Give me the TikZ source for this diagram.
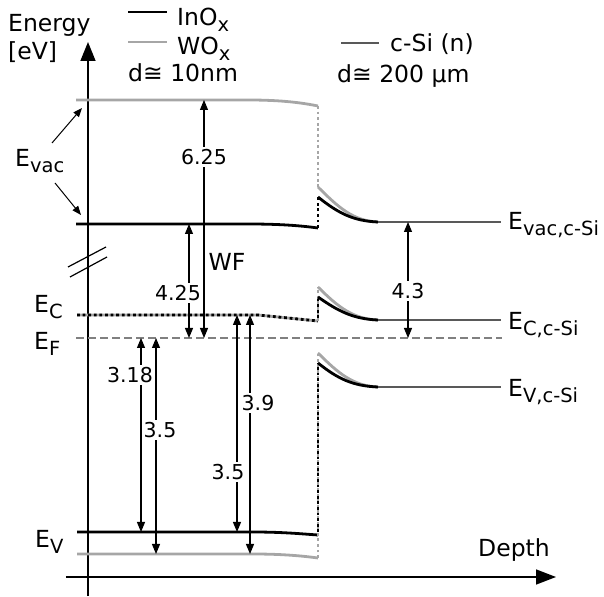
\documentclass[tikz,border=0pt]{standalone}
\usepackage{fontspec}
\setmainfont{DejaVu Sans}
\usepackage{tikz}
\usetikzlibrary{arrows.meta, positioning, calc}
\newcommand{\lowidx}[1]{\raisebox{-6pt}{\fontsize{19.5}{19.5}\selectfont #1}}

\begin{document}
\begin{tikzpicture}[x=1pt, y=1pt,
  lbl/.style={font=\fontsize{23.5}{24}\selectfont, inner sep=0pt},
  num/.style={font=\fontsize{20.5}{21}\selectfont, fill=white, inner sep=2pt},
  dim/.style={{Triangle[length=10pt,width=8pt]}-{Triangle[length=10pt,width=8pt]}, line width=1.1pt},
  pointer/.style={-{Triangle[length=9pt,width=7pt]}, line width=1pt},
  level/.style={line width=2.8pt},
  dots/.style={line width=2.8pt, dash pattern=on 2.8pt off 2.8pt}]
% --- CORES DOS MATERIAIS ---
\definecolor{wogray}{HTML}{A6A6A6}
\definecolor{sigray}{HTML}{595959}
\definecolor{fermigray}{HTML}{808080}
\useasboundingbox (-88,-19) rectangle (516,577);

% LAYER 1: Eixos
\draw[line width=1.5pt, -{Triangle[length=19pt,width=15pt]}] (0,-19) -- (0,535);
\draw[line width=1.5pt, -{Triangle[length=20pt,width=15pt]}] (-22,0) -- (468,0);
\draw[line width=1.2pt] (-20,310) -- (18,330);
\draw[line width=1.2pt] (-18,300) -- (19,320);
\node[lbl, anchor=base west] (energy) at (-80,545) {Energy};
\node[lbl, anchor=base west] (unit) at (-80,517) {[eV]};
\node[lbl, anchor=base west] (depth) at (390,20) {Depth};

% LAYER 2: Legenda
\draw[level] (40,565) -- (79,565);
\node[lbl, anchor=base west] (inox) at (89,551) {InO\lowidx{x}};
\draw[level, color=wogray] (40,535) -- (79,535);
\node[lbl, anchor=base west] (wox) at (89,522) {WO\lowidx{x}};
\node[lbl, anchor=base west] (dox) at (40,495) {d≅ 10nm};
\draw[level, color=sigray] (253,534) -- (291,534);
\node[lbl, anchor=base west] (csi) at (302,525) {c-Si (n)};
\node[lbl, anchor=base west] (dsi) at (249,494) {d≅ 200 μm};

% LAYER 3: Niveis dos oxidos
\draw[level, color=wogray] (-12,477) -- (160,477) .. controls (195,477) and (215,474) .. (230,471);
\draw[level] (-12,353) -- (160,353) .. controls (195,353) and (215,351) .. (230,349);
\draw[level, color=wogray] (-11,262) -- (170,262) -- (230,256);
\draw[dots] (-11,262) -- (170,262) -- (230,256);
\draw[line width=1.5pt, color=fermigray, dash pattern=on 7.5pt off 4.5pt] (-12,239) -- (414,239);
\draw[level] (-11,45) -- (165,45) .. controls (195,45) and (215,43) .. (230,42);
\draw[level, color=wogray] (-11,23) -- (165,23) .. controls (195,23) and (215,21) .. (230,19);

% LAYER 4: Interface
\draw[dots, color=wogray] (230,471) -- (230,390);
\draw[dots] (230,349) -- (230,380);
\draw[dots, color=wogray] (230,256) -- (230,290);
\draw[dots, dash phase=2.8pt] (230,256) -- (230,280);
\draw[dots, color=wogray] (230,19) -- (230,224);
\draw[dots, dash phase=2.8pt] (230,42) -- (230,214);

% LAYER 5: Bandas do c-Si
\draw[level, color=wogray] (230,390) .. controls (250,370) and (265,356) .. (290,355);
\draw[level] (230,380) .. controls (250,364) and (265,356) .. (290,355);
\draw[level, color=wogray] (230,290) .. controls (250,270) and (265,258) .. (290,257);
\draw[level] (230,280) .. controls (250,266) and (265,258) .. (290,257);
\draw[level, color=wogray] (230,224) .. controls (250,204) and (265,191) .. (290,190);
\draw[level] (230,214) .. controls (250,198) and (265,191) .. (290,190);
\draw[level, color=sigray] (290,355) -- (413,355);
\draw[level, color=sigray] (290,257) -- (413,257);
\draw[level, color=sigray] (290,190) -- (413,190);

% LAYER 6: Rotulos dos niveis
\node[lbl, anchor=base west] (evac) at (-73,410) {E\lowidx{vac}};
\node[lbl, anchor=base west] (ec) at (-54,264) {E\lowidx{C}};
\node[lbl, anchor=base west] (ef) at (-54,227) {E\lowidx{F}};
\node[lbl, anchor=base west] (ev) at (-53,29) {E\lowidx{V}};
\node[lbl, anchor=base west] (evacsi) at (420,347) {E\lowidx{vac,c-Si}};
\node[lbl, anchor=base west] (ecsi) at (420,247) {E\lowidx{C,c-Si}};
\node[lbl, anchor=base west] (evsi) at (420,180) {E\lowidx{V,c-Si}};
\coordinate (vacwo) at (-6,469);
\coordinate (vacin) at (-7,362);
\draw[pointer] (-36,434) -- (vacwo);
\draw[pointer] (-33,394) -- (vacin);

% LAYER 7: Cotas
\coordinate (wfwoT) at (116,477); \coordinate (wfwoB) at (116,239);
\coordinate (wfinT) at (101,353); \coordinate (wfinB) at (101,239);
\coordinate (fvinT) at (53,239);  \coordinate (fvinB) at (53,45);
\coordinate (fvwoT) at (68,239);  \coordinate (fvwoB) at (68,23);
\coordinate (gapinT) at (149,262); \coordinate (gapinB) at (149,45);
\coordinate (gapwoT) at (162,262); \coordinate (gapwoB) at (162,23);
\coordinate (wfsiT) at (320,355); \coordinate (wfsiB) at (320,239);
\draw[dim] (wfwoT) -- (wfwoB);
\draw[dim] (wfinT) -- (wfinB);
\draw[dim] (fvinT) -- (fvinB);
\draw[dim] (fvwoT) -- (fvwoB);
\draw[dim] (gapinT) -- (gapinB);
\draw[dim] (gapwoT) -- (gapwoB);
\draw[dim] (wfsiT) -- (wfsiB);
\node[num, inner xsep=1pt] (n425) at (90,284) {4.25};
\node[num] (n625) at (116,420) {6.25};
\node[lbl] (wf) at (139,315) {WF};
\node[num] (n318) at (42,202) {3.18};
\node[num] (n35a) at (72,147) {3.5};
\node[num] (n35b) at (140,105) {3.5};
\node[num] (n39) at (170,174) {3.9};
\node[num] (n43) at (320,286) {4.3};
\end{tikzpicture}
\end{document}
